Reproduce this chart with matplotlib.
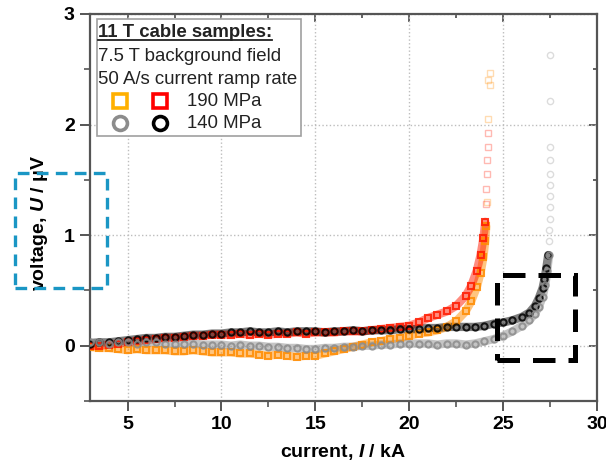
import matplotlib
matplotlib.use("Agg")
import matplotlib.pyplot as plt
from matplotlib.patches import Rectangle
from matplotlib.lines import Line2D

# values (current in kA, voltage in uV)
i_190_orange = [3.0, 3.5, 4.0, 4.5, 5.0, 5.5, 6.0, 6.5, 7.0, 7.5, 8.0, 8.5, 9.0, 9.5,
                10.0, 10.5, 11.0, 11.5, 12.0, 12.5, 13.0, 13.5, 14.0, 14.5, 15.0, 15.5,
                16.0, 16.5, 17.0, 17.5, 18.0, 18.5, 19.0, 19.5, 20.0, 20.5, 21.0, 21.5,
                22.0, 22.5, 23.0, 23.3, 23.6, 23.8, 23.95, 24.05, 24.1]
u_190_orange = [-0.01, -0.02, -0.02, -0.03, -0.04, -0.03, -0.04, -0.04, -0.04, -0.05, -0.05,
                -0.04, -0.05, -0.06, -0.06, -0.06, -0.07, -0.07, -0.08, -0.09, -0.08, -0.09,
                -0.10, -0.09, -0.09, -0.07, -0.05, -0.03, -0.01, 0.01, 0.03, 0.04, 0.06, 0.07,
                0.09, 0.11, 0.12, 0.14, 0.17, 0.22, 0.31, 0.40, 0.53, 0.66, 0.80, 0.95, 1.08]
i_190_orange_tail = [24.15, 24.2, 24.2, 24.3, 24.3]
u_190_orange_tail = [1.30, 2.05, 2.40, 2.36, 2.47]

i_190_red = [3.0, 3.5, 4.0, 4.5, 5.0, 5.5, 6.0, 6.5, 7.0, 7.5, 8.0, 8.5, 9.0, 9.5,
             10.0, 10.5, 11.0, 11.5, 12.0, 12.5, 13.0, 13.5, 14.0, 14.5, 15.0, 15.5,
             16.0, 16.5, 17.0, 17.5, 18.0, 18.5, 19.0, 19.5, 20.0, 20.5, 21.0, 21.5,
             22.0, 22.5, 23.0, 23.3, 23.6, 23.8, 23.95, 24.05]
u_190_red = [0.0, 0.0, 0.01, 0.02, 0.03, 0.04, 0.05, 0.06, 0.07, 0.07, 0.08, 0.09, 0.09, 0.10,
             0.10, 0.10, 0.11, 0.10, 0.11, 0.10, 0.11, 0.11, 0.12, 0.11, 0.12, 0.12, 0.12,
             0.13, 0.13, 0.13, 0.14, 0.15, 0.16, 0.17, 0.18, 0.21, 0.25, 0.28, 0.31, 0.36,
             0.45, 0.54, 0.68, 0.82, 0.97, 1.12]
i_190_red_tail = [24.1, 24.1, 24.15, 24.15, 24.2, 24.2]
u_190_red_tail = [1.28, 1.42, 1.55, 1.68, 1.80, 1.92]

i_140_gray = [3.0, 3.5, 4.0, 4.5, 5.0, 5.5, 6.0, 6.5, 7.0, 7.5, 8.0, 8.5, 9.0, 9.5,
              10.0, 10.5, 11.0, 11.5, 12.0, 12.5, 13.0, 13.5, 14.0, 14.5, 15.0, 15.5,
              16.0, 16.5, 17.0, 17.5, 18.0, 18.5, 19.0, 19.5, 20.0, 20.5, 21.0, 21.5,
              22.0, 22.5, 23.0, 23.5, 24.0, 24.5, 25.0, 25.5, 26.0, 26.4, 26.7, 26.9,
              27.1, 27.25, 27.35, 27.45]
u_140_gray = [0.03, 0.03, 0.02, 0.03, 0.03, 0.02, 0.03, 0.03, 0.02, 0.02, 0.02, 0.02, 0.01,
              0.01, 0.01, 0.0, 0.01, 0.0, 0.0, -0.01, -0.01, -0.02, -0.02, -0.03, -0.03,
              -0.02, -0.02, -0.01, -0.01, 0.0, 0.0, 0.01, 0.01, 0.02, 0.02, 0.02, 0.02, 0.01,
              0.02, 0.02, 0.01, 0.02, 0.04, 0.06, 0.09, 0.13, 0.18, 0.23, 0.29, 0.35, 0.44,
              0.55, 0.68, 0.82]

i_140_black = [3.0, 3.5, 4.0, 4.5, 5.0, 5.5, 6.0, 6.5, 7.0, 7.5, 8.0, 8.5, 9.0, 9.5,
               10.0, 10.5, 11.0, 11.5, 12.0, 12.5, 13.0, 13.5, 14.0, 14.5, 15.0, 15.5,
               16.0, 16.5, 17.0, 17.5, 18.0, 18.5, 19.0, 19.5, 20.0, 20.5, 21.0, 21.5,
               22.0, 22.5, 23.0, 23.5, 24.0, 24.5, 25.0, 25.5, 26.0, 26.4, 26.7, 26.9,
               27.1, 27.2, 27.3, 27.4]
u_140_black = [0.02, 0.03, 0.03, 0.04, 0.05, 0.06, 0.07, 0.07, 0.08, 0.08, 0.09, 0.10, 0.10,
               0.11, 0.11, 0.12, 0.12, 0.13, 0.12, 0.12, 0.13, 0.12, 0.13, 0.13, 0.13, 0.12,
               0.13, 0.13, 0.14, 0.13, 0.14, 0.14, 0.14, 0.15, 0.15, 0.15, 0.16, 0.16, 0.17,
               0.17, 0.17, 0.17, 0.18, 0.20, 0.21, 0.23, 0.26, 0.30, 0.36, 0.43, 0.52, 0.60,
               0.70, 0.82]
i_140_tail = [27.45, 27.45, 27.5, 27.5, 27.5, 27.5, 27.5, 27.5, 27.5, 27.5, 27.5]
u_140_tail = [0.95, 1.05, 1.15, 1.25, 1.35, 1.45, 1.55, 1.68, 1.80, 2.21, 2.63]

x_ticks = [5, 10, 15, 20, 25, 30]
y_ticks = [0, 1, 2, 3]

plt.rcParams['font.family'] = ['Liberation Sans', 'DejaVu Sans']
plt.rcParams['mathtext.fontset'] = 'custom'
plt.rcParams['mathtext.rm'] = 'Liberation Sans'
plt.rcParams['mathtext.it'] = 'Liberation Sans:italic:bold'
plt.rcParams['mathtext.bf'] = 'Liberation Sans:bold'

fig = plt.figure(figsize=(6.06, 4.65), dpi=100)
ax = fig.add_axes([90 / 606, 1 - 401 / 465, 507 / 606, 387 / 465])

c_orange = '#ff8c00'
c_red = '#ff1a00'
c_gray = '#8c8c8c'
c_black = '#000000'


def draw_series(xs, ys, color, marker):
    ax.plot(xs, ys, color=color, lw=6, alpha=0.5, solid_capstyle='round', zorder=2)
    ax.plot(xs, ys, ls='none', marker=marker, ms=4.5, mfc='none', mec=color, mew=1.5,
            alpha=0.85, zorder=3)


def draw_tail(xs, ys, color, marker):
    ax.plot(xs, ys, ls='none', marker=marker, ms=4.5, mfc='none', mec=color, mew=1.0,
            alpha=0.3, zorder=3)


draw_series(i_190_orange, u_190_orange, c_orange, 's')
draw_tail(i_190_orange_tail, u_190_orange_tail, c_orange, 's')
draw_series(i_190_red, u_190_red, c_red, 's')
draw_tail(i_190_red_tail, u_190_red_tail, c_red, 's')
draw_series(i_140_black, u_140_black, c_black, 'o')
draw_series(i_140_gray, u_140_gray, c_gray, 'o')
draw_tail(i_140_tail, u_140_tail, c_gray, 'o')

ax.set_xlim(3, 30)
ax.set_ylim(-0.5, 3)
ax.set_xticks(x_ticks)
ax.set_yticks(y_ticks)
ax.set_xticks([7.5, 12.5, 17.5, 22.5, 27.5], minor=True)
ax.set_yticks([-0.5, 0.5, 1.5, 2.5], minor=True)
ax.grid(True, which='major', ls=':', color='#bdbdbd', lw=1)
ax.set_axisbelow(True)

spine_c = '#555555'
for s in ax.spines.values():
    s.set_color(spine_c)
    s.set_linewidth(1.6)
ax.tick_params(which='major', direction='out', length=7, width=1.4, color=spine_c,
               labelsize=14, pad=4)
ax.tick_params(which='minor', direction='out', length=4, width=1.2, color=spine_c)
for lab in ax.get_xticklabels() + ax.get_yticklabels():
    lab.set_fontweight('bold')

# mirrored inward ticks on top and right
top = ax.secondary_xaxis('top')
top.set_xticks(x_ticks)
top.set_xticks([7.5, 12.5, 17.5, 22.5, 27.5], minor=True)
top.tick_params(which='both', direction='in', length=6, width=1.3, color=spine_c,
                labeltop=False)
top.tick_params(which='minor', length=3)
top.spines['top'].set_visible(False)
right = ax.secondary_yaxis('right')
right.set_yticks(y_ticks)
right.set_yticks([-0.5, 0.5, 1.5, 2.5], minor=True)
right.tick_params(which='both', direction='in', length=6, width=1.3, color=spine_c,
                  labelright=False)
right.tick_params(which='minor', length=3)
right.spines['right'].set_visible(False)

ax.set_xlabel(r'current, $\mathit{I}$ / kA', fontsize=14, fontweight='bold', labelpad=6)
ax.set_ylabel(r'voltage, $\mathit{U}$ / $\mathbf{\mu}$V', fontsize=14, fontweight='bold')
ax.yaxis.set_label_coords(-0.078, 0.46)

# legend box drawn by hand
fs = 13.4
ax.add_patch(Rectangle((0.0138, 0.684), 0.402, 0.303, transform=ax.transAxes,
                       facecolor='white', edgecolor='#a0a0a0', lw=1.2, zorder=5))
t_title = ax.text(0.016, 0.951, '11 T cable samples:', transform=ax.transAxes,
                  fontsize=fs, fontweight='bold', va='center', ha='left', color='#222222',
                  zorder=6)
ax.text(0.016, 0.889, '7.5 T background field', transform=ax.transAxes, fontsize=fs,
        va='center', ha='left', color='#222222', zorder=6)
ax.text(0.016, 0.832, '50 A/s current ramp rate', transform=ax.transAxes, fontsize=fs,
        va='center', ha='left', color='#222222', zorder=6)
ax.text(0.191, 0.775, '190 MPa', transform=ax.transAxes, fontsize=fs,
        va='center', ha='left', color='#222222', zorder=6)
ax.text(0.191, 0.718, '140 MPa', transform=ax.transAxes, fontsize=fs,
        va='center', ha='left', color='#222222', zorder=6)
for xm, ym, mk, col in [(0.059, 0.775, 's', '#ffb000'), (0.138, 0.775, 's', '#ff0000'),
                        (0.059, 0.718, 'o', '#8c8c8c'), (0.138, 0.718, 'o', '#000000')]:
    ax.add_line(Line2D([xm], [ym], transform=ax.transAxes, marker=mk, ms=10, mfc='none',
                       mec=col, mew=2.6, ls='none', zorder=6))

# underline the legend title
fig.canvas.draw()
bb = t_title.get_window_extent().transformed(ax.transAxes.inverted())
ax.add_line(Line2D([bb.x0, bb.x1], [bb.y0 + 0.004, bb.y0 + 0.004], transform=ax.transAxes,
                   color='#222222', lw=1.3, zorder=6))

# highlight boxes
fig.add_artist(Rectangle((15 / 606, 1 - 288 / 465), 92 / 606, 115 / 465,
                         transform=fig.transFigure, fill=False, edgecolor='#1a96c4',
                         lw=2.4, ls=(0, (3.5, 2.2)), zorder=10))
ax.add_patch(Rectangle((24.7, -0.13), 4.15, 0.77, fill=False, edgecolor='black',
                       lw=3.6, ls=(0, (4.5, 2.6)), zorder=10, clip_on=False))

fig.savefig('out.png', dpi=100)
